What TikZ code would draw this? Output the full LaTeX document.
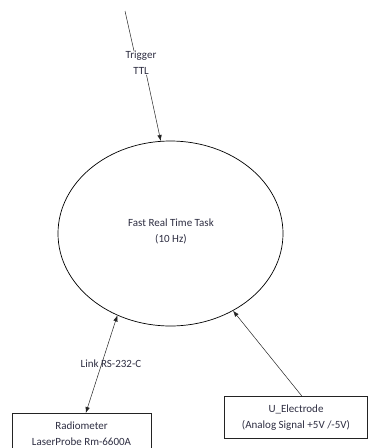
\documentclass[tikz,border=0pt]{standalone}
\usepackage{fontspec}
\setmainfont{Carlito}
\usetikzlibrary{shapes.geometric,arrows.meta}
\definecolor{txt}{RGB}{45,45,65}
\definecolor{ln}{RGB}{35,35,35}
\tikzset{
  lbl/.style={font=\fontsize{11}{16}\selectfont, text=txt, align=center, inner sep=1pt},
  boxnode/.style={draw=ln, line width=0.6pt, rectangle, anchor=north west, inner sep=0pt},
  conn/.style={draw=ln, line width=0.5pt, -{Latex[length=6pt,width=4.5pt]}},
}
\begin{document}
\begin{tikzpicture}[x=1pt,y=-1pt]
\useasboundingbox (0,0) rectangle (369,448);
\begin{scope}
\clip (0,0) rectangle (369,448);
\node[draw=black, line width=0.7pt, ellipse, minimum width=225pt, minimum height=185pt, inner sep=0pt] (ell) at (170.5,233.5) {};
\node[lbl] (elltxt) at (171,231) {Fast Real Time Task\\(10 Hz)};
\node[boxnode, minimum width=139pt, minimum height=42pt] (rad) at (12,413) {};
\node[lbl] (radtxt) at (81.5,434) {Radiometer\\LaserProbe Rm-6600A};
\node[boxnode, minimum width=143pt, minimum height=42pt] (ue) at (224,396) {};
\node[lbl] (uetxt) at (296,417.5) {U\_Electrode\\(Analog Signal +5V /-5V)};
\coordinate (t0) at (125,11);
\node[lbl, fill=white, inner sep=0pt] (trig) at (141,63) {Trigger\\TTL};
\draw[ln, line width=0.5pt] (t0) -- (trig.north -| 134,0);
\draw[conn] (trig.south -| 146.5,0) -- (ell.96);
\draw[conn, {Latex[length=6pt,width=4.5pt]}-{Latex[length=6pt,width=4.5pt]}] ([xshift=4pt]rad.north) -- (ell.237);
\node[lbl] (link) at (111,364) {Link RS-232-C};
\draw[conn] ([xshift=6pt]ue.north) -- (ell.309);
\end{scope}
\end{tikzpicture}
\end{document}
